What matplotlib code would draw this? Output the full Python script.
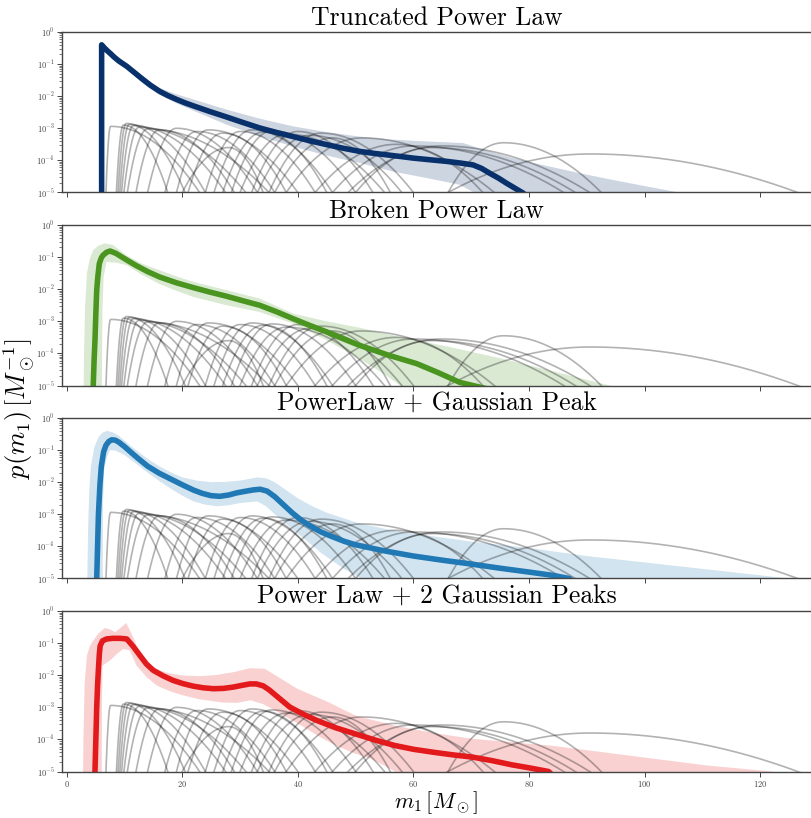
import numpy as np
import matplotlib
matplotlib.use("Agg")
import matplotlib.pyplot as plt

plt.rcParams['font.family'] = 'cmr10'
plt.rcParams['mathtext.fontset'] = 'cm'
plt.rcParams['axes.formatter.use_mathtext'] = True

# Single-event mass posteriors: lower foot, peak, upper foot (all in M_sun), log10 peak height
event_lo = [6.8, 8.6, 8.9, 9.2, 9.5, 9.9, 10.5, 12.0, 14.0, 17.0, 19.0, 21.0, 24.0, 25.5, 27.0,
            28.5, 30.0, 32.0, 33.0, 35.0, 38.0, 43.0, 46.0, 48.7, 50.0, 66.0, 66.0, 20.0, 36.0]
event_pk = [7.6, 9.8, 10.3, 10.8, 11.5, 12.5, 14.0, 16.0, 19.0, 22.5, 24.5, 27.0, 30.0, 32.0, 34.0,
            35.5, 38.0, 40.0, 42.0, 44.0, 51.0, 57.0, 60.0, 64.8, 63.0, 75.6, 90.5, 28.0, 46.0]
event_hi = [23.0, 17.5, 20.5, 24.0, 27.5, 31.0, 35.0, 29.0, 33.0, 36.0, 40.0, 38.0, 43.0, 46.0, 45.0,
            50.0, 55.0, 53.0, 58.0, 60.0, 74.0, 72.0, 86.0, 90.5, 88.0, 92.5, 126.5, 34.0, 56.0]
event_logp = [-2.94, -2.90, -2.85, -2.88, -2.92, -2.97, -3.02, -3.05, -3.00, -3.10, -3.05, -3.15, -3.10, -3.05, -3.12,
              -3.08, -3.18, -3.10, -3.22, -3.15, -3.30, -3.50, -3.55, -3.55, -3.60, -3.45, -3.80, -3.60, -3.30]

# Truncated power law: median and 90% band (m, log10 p)
tpl_m = [6.05, 6.05, 6.5, 7.0, 7.5, 8.2, 9.0, 10.4, 11.7, 13.0, 14.5, 16.1, 17.5, 19.0, 20.5, 21.9, 24.8, 27.7,
         30.5, 33.4, 36.3, 39.2, 42.1, 45.0, 47.8, 50.7, 53.1, 55.5, 57.8, 60.0, 62.8, 65.7, 68.0, 70.3, 71.8,
         73.2, 74.7, 76.1, 77.6, 79.0, 80.0]
tpl_med = [-6.0, -0.40, -0.49, -0.58, -0.66, -0.78, -0.90, -1.07, -1.26, -1.45, -1.66, -1.85, -1.98, -2.10, -2.21,
           -2.30, -2.48, -2.65, -2.82, -2.99, -3.13, -3.26, -3.39, -3.51, -3.62, -3.72, -3.78, -3.83, -3.88, -3.93,
           -3.98, -4.03, -4.08, -4.14, -4.25, -4.40, -4.55, -4.71, -4.87, -5.02, -5.2]
tpl_up_m = [5.9, 5.9, 6.6, 7.5, 8.8, 10.4, 13.0, 16.1, 19.0, 21.9, 27.7, 33.4, 39.2, 45.0, 50.7, 56.0, 62.3, 68.6,
            72.0, 77.3, 83.0, 88.8, 94.5, 100.3, 106.0, 108.0]
tpl_up = [-6.0, -0.30, -0.44, -0.58, -0.77, -0.98, -1.38, -1.75, -1.94, -2.10, -2.42, -2.70, -2.94, -3.12, -3.26,
          -3.35, -3.41, -3.46, -3.66, -3.93, -4.17, -4.40, -4.61, -4.81, -5.0, -5.2]
tpl_lo_m = [6.2, 6.2, 6.8, 7.5, 8.8, 10.4, 13.0, 16.1, 19.0, 21.9, 27.7, 33.4, 39.2, 45.0, 50.7, 56.5, 62.3, 68.0,
            70.5, 71.0]
tpl_lo = [-6.0, -0.50, -0.61, -0.72, -0.92, -1.13, -1.58, -1.96, -2.22, -2.45, -2.89, -3.25, -3.57, -3.85, -4.08,
          -4.35, -4.55, -4.76, -5.0, -5.2]

# Broken power law
bpl_m = [4.5, 4.6, 4.75, 4.9, 5.05, 5.2, 5.4, 5.65, 6.0, 6.3, 6.9, 7.5, 8.5, 9.4, 10.4, 12.0, 14.0, 16.1, 19.0,
         21.9, 24.8, 27.7, 30.5, 33.4, 36.3, 39.2, 42.1, 45.0, 47.8, 50.7, 55.6, 60.6, 64.3, 68.0, 70.3, 72.7]
bpl_med = [-6.0, -5.0, -4.2, -3.59, -2.75, -2.03, -1.60, -1.20, -1.02, -0.94, -0.85, -0.81, -0.88, -0.98, -1.09,
           -1.26, -1.45, -1.62, -1.80, -1.95, -2.09, -2.22, -2.36, -2.50, -2.70, -2.92, -3.13, -3.33, -3.54, -3.75,
           -4.05, -4.32, -4.60, -4.90, -5.0, -5.1]
bpl_up_m = [2.9, 3.0, 3.2, 3.5, 4.0, 4.6, 5.5, 6.6, 8.0, 10.4, 13.0, 16.1, 19.0, 21.9, 27.7, 33.4, 39.2, 45.0,
            50.7, 58.0, 66.3, 75.0, 83.6, 94.0, 95.0]
bpl_up = [-6.0, -4.0, -2.5, -1.50, -1.05, -0.78, -0.64, -0.57, -0.62, -0.95, -1.20, -1.41, -1.60, -1.77, -2.03,
          -2.29, -2.76, -3.00, -3.20, -3.50, -3.80, -4.15, -4.53, -5.0, -5.2]
bpl_lo_m = [6.05, 6.2, 6.4, 6.9, 8.5, 10.4, 13.0, 16.1, 19.0, 21.9, 27.7, 33.4, 39.2, 45.0, 50.7, 55.0, 57.7, 58.0]
bpl_lo = [-6.0, -2.60, -1.60, -1.15, -1.17, -1.25, -1.55, -1.84, -2.05, -2.24, -2.50, -2.71, -3.07, -3.59, -4.17,
          -4.65, -5.0, -5.2]

# Power law + Gaussian peak
plp_m = [5.0, 5.2, 5.35, 5.5, 5.75, 6.0, 6.4, 6.8, 7.3, 7.8, 8.4, 9.0, 10.0, 11.0, 12.5, 14.0, 16.0, 18.0, 20.0,
         22.0, 23.5, 25.0, 26.5, 28.0, 29.5, 31.0, 32.3, 33.5, 34.7, 36.0, 37.5, 39.0, 40.5, 42.0, 44.0, 46.0,
         48.0, 50.0, 55.0, 60.0, 65.0, 70.0, 75.0, 80.0, 84.0, 87.0, 88.0]
plp_med = [-6.0, -5.0, -4.0, -3.0, -2.1, -1.5, -1.05, -0.85, -0.73, -0.68, -0.69, -0.75, -0.89, -1.05, -1.28,
           -1.50, -1.72, -1.90, -2.08, -2.25, -2.35, -2.42, -2.44, -2.40, -2.33, -2.28, -2.24, -2.22, -2.28, -2.45,
           -2.70, -2.95, -3.17, -3.35, -3.55, -3.70, -3.84, -3.95, -4.14, -4.30, -4.43, -4.55, -4.68, -4.80, -4.90,
           -5.0, -5.2]
plp_up_m = [3.5, 3.7, 3.9, 4.2, 4.8, 5.5, 6.2, 7.0, 8.0, 9.0, 10.5, 12.0, 14.0, 16.0, 18.0, 20.0, 22.5, 25.0,
            27.5, 30.0, 31.5, 33.0, 34.5, 36.0, 38.0, 40.0, 42.5, 45.0, 50.0, 55.0, 60.0, 70.0, 80.0, 90.0, 100.0,
            110.0, 120.0, 125.0, 126.0]
plp_up = [-6.0, -3.5, -2.3, -1.5, -0.9, -0.6, -0.46, -0.40, -0.45, -0.55, -0.78, -1.0, -1.27, -1.5, -1.69, -1.85,
          -1.95, -2.0, -1.99, -1.95, -1.90, -1.85, -1.88, -2.0, -2.25, -2.5, -2.75, -2.95, -3.25, -3.45, -3.6,
          -3.85, -4.05, -4.3, -4.5, -4.7, -4.9, -5.0, -5.2]
plp_lo_m = [6.2, 6.3, 6.5, 7.0, 7.5, 8.5, 10.0, 12.0, 14.0, 16.0, 18.0, 20.0, 22.0, 24.0, 26.0, 28.0, 30.0, 33.0,
            34.5, 36.0, 38.0, 40.0, 42.0, 44.0, 46.0, 48.0, 51.0, 52.0]
plp_lo = [-6.0, -2.6, -1.6, -1.2, -1.0, -1.02, -1.15, -1.42, -1.7, -1.96, -2.2, -2.42, -2.6, -2.7, -2.75, -2.72,
          -2.65, -2.6, -2.75, -3.0, -3.3, -3.6, -3.9, -4.2, -4.45, -4.7, -5.0, -5.2]

# Power law + 2 Gaussian peaks
pl2_m = [4.8, 4.9, 5.05, 5.2, 5.35, 5.5, 5.65, 5.8, 6.2, 6.9, 8.0, 9.2, 10.4, 11.5, 12.7, 13.8, 15.0, 16.7,
         18.4, 20.1, 21.9, 23.6, 25.4, 27.1, 28.8, 30.2, 31.7, 32.8, 34.0, 35.0, 36.8, 38.6, 41.0, 43.3, 46.6,
         50.0, 53.4, 56.8, 60.1, 63.5, 66.8, 70.2, 73.6, 77.0, 80.2, 83.4, 84.5]
pl2_med = [-6.0, -5.0, -4.0, -3.0, -2.3, -1.8, -1.35, -1.08, -0.93, -0.87, -0.85, -0.85, -0.87, -1.10, -1.39,
           -1.65, -1.85, -2.02, -2.16, -2.26, -2.34, -2.39, -2.42, -2.41, -2.37, -2.32, -2.27, -2.27, -2.33, -2.45,
           -2.72, -2.99, -3.22, -3.41, -3.64, -3.83, -4.02, -4.19, -4.31, -4.40, -4.48, -4.55, -4.66, -4.79, -4.89,
           -5.0, -5.2]
pl2_up_m = [2.8, 2.9, 3.1, 3.5, 4.0, 4.6, 5.5, 6.6, 7.5, 8.4, 9.5, 10.3, 11.5, 12.4, 13.3, 14.5, 16.1, 18.0, 20.2,
            23.0, 26.0, 29.0, 31.7, 34.3, 37.0, 39.9, 45.3, 50.0, 56.8, 63.5, 70.2, 83.7, 97.2, 110.7, 122.1, 123.0]
pl2_up = [-6.0, -4.0, -2.3, -1.39, -1.10, -0.92, -0.70, -0.53, -0.57, -0.66, -0.50, -0.37, -0.81, -1.20, -1.49,
          -1.70, -1.85, -1.95, -2.01, -2.03, -1.99, -1.90, -1.78, -1.80, -2.10, -2.42, -2.84, -3.26, -3.57, -3.80,
          -3.98, -4.19, -4.50, -4.81, -5.0, -5.2]
pl2_lo_m = [6.05, 6.1, 6.2, 7.5, 8.8, 9.8, 10.9, 12.1, 13.8, 15.6, 17.9, 20.2, 23.0, 27.0, 29.5, 31.8, 34.0, 36.6,
            40.6, 43.6, 46.6, 49.6, 52.7, 54.8, 56.8, 57.5]
pl2_lo = [-6.0, -3.0, -1.70, -1.54, -1.32, -1.18, -1.22, -1.70, -2.05, -2.32, -2.50, -2.63, -2.75, -2.85, -2.86,
          -2.78, -2.90, -3.15, -3.57, -3.90, -4.19, -4.42, -4.60, -4.80, -5.0, -5.2]

titles = ['Truncated Power Law', 'Broken Power Law', 'PowerLaw + Gaussian Peak', 'Power Law + 2 Gaussian Peaks']
colors = ['#08306b', '#4a9420', '#2079b4', '#e31a1c']
models = [
    (tpl_m, tpl_med, tpl_up_m, tpl_up, tpl_lo_m, tpl_lo),
    (bpl_m, bpl_med, bpl_up_m, bpl_up, bpl_lo_m, bpl_lo),
    (plp_m, plp_med, plp_up_m, plp_up, plp_lo_m, plp_lo),
    (pl2_m, pl2_med, pl2_up_m, pl2_up, pl2_lo_m, pl2_lo),
]


# log-parabola (Gaussian) bump with separate widths either side of the peak
def event_curve(m, lo, pk, hi, logp):
    w = np.where(m < pk, pk - lo, hi - pk)
    return 10 ** (logp - (5 + logp) * ((m - pk) / w) ** 2)


mgrid = np.linspace(0, 130, 1500)

fig = plt.figure(figsize=(8.11, 8.18), dpi=100)
left, width, height = 0.0765, 0.9235, 0.1962
bottoms = [0.7647, 0.5287, 0.2928, 0.0568]

axes = []
for i, (title, color, (m, med, um, up, lm, lo)) in enumerate(zip(titles, colors, models)):
    ax = fig.add_axes([left, bottoms[i], width, height])
    axes.append(ax)

    for e in range(len(event_pk)):
        ax.plot(mgrid, event_curve(mgrid, event_lo[e], event_pk[e], event_hi[e], event_logp[e]),
                color='k', alpha=0.3, lw=1.2)

    # 90% credible band as closed polygon, then the median
    band_m = np.r_[um, lm[::-1]]
    band_p = 10 ** np.r_[up, lo[::-1]]
    ax.fill(band_m, band_p, color=color, alpha=0.2, lw=0)
    ax.plot(m, 10 ** np.array(med), color=color, lw=4, solid_joinstyle='round')

    ax.set_yscale('log')
    ax.set_ylim(1e-5, 1)
    ax.set_xlim(-0.8, 128.8)
    ax.set_title(title, fontsize=18.5, pad=5)

    for s in ['left', 'bottom', 'top']:
        ax.spines[s].set_color('#444444')
        ax.spines[s].set_linewidth(1.0)
    ax.spines['right'].set_visible(False)
    ax.tick_params(which='major', length=3.5, width=0.7, colors='#444444', labelsize=6, pad=2)
    ax.tick_params(which='minor', length=2, width=0.5, colors='#444444')
    ax.set_xticks([0, 20, 40, 60, 80, 100, 120])
    if i < 3:
        ax.tick_params(axis='x', labelbottom=False)

axes[-1].set_xlabel(r'$m_1\,[M_\odot]$', fontsize=16, labelpad=0)
fig.text(0.002, 0.5, r'$p(m_1)\,[M_\odot^{-1}]$', rotation=90, fontsize=19,
         ha='left', va='center')

fig.savefig('out.png', dpi=100)
